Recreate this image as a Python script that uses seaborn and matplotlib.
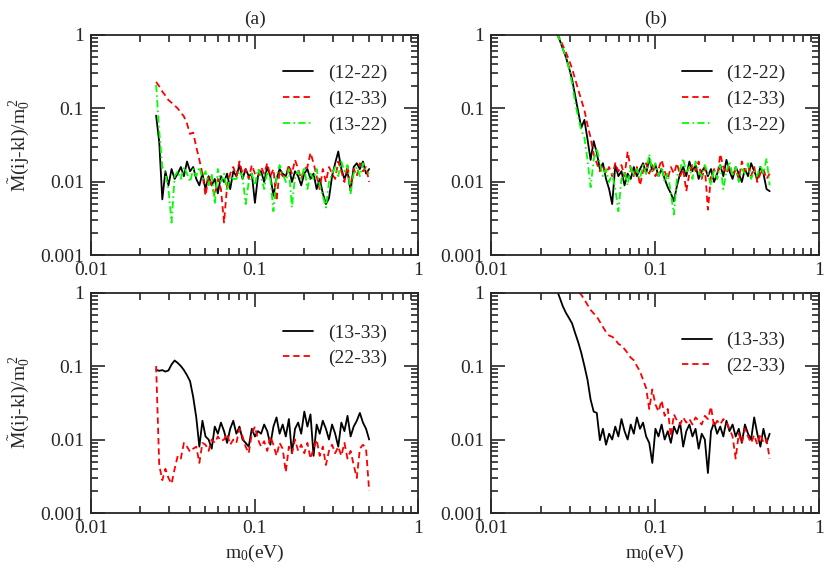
import matplotlib
matplotlib.use("Agg")
import matplotlib.pyplot as plt
import matplotlib.ticker as ticker
import seaborn as sns

# m0 grid (eV), shared by every curve
M0 = [0.02500, 0.02611, 0.02727, 0.02848, 0.02974, 0.03106, 0.03244, 0.03388, 0.03538, 0.03695,
      0.03859, 0.04030, 0.04209, 0.04396, 0.04591, 0.04794, 0.05007, 0.05229, 0.05461, 0.05703,
      0.05956, 0.06220, 0.06496, 0.06784, 0.07085, 0.07399, 0.07727, 0.08070, 0.08428, 0.08802,
      0.09193, 0.09600, 0.1003, 0.1047, 0.1094, 0.1142, 0.1193, 0.1246, 0.1301, 0.1359,
      0.1419, 0.1482, 0.1548, 0.1617, 0.1688, 0.1763, 0.1842, 0.1923, 0.2009, 0.2098,
      0.2191, 0.2288, 0.2389, 0.2495, 0.2606, 0.2722, 0.2842, 0.2968, 0.3100, 0.3238,
      0.3381, 0.3531, 0.3688, 0.3851, 0.4022, 0.4201, 0.4387, 0.4582, 0.4785, 0.5000]

# ---- panel (a), top ----
A_12_22 = [0.080, 0.035, 0.0058, 0.014, 0.009, 0.015, 0.011, 0.013, 0.016, 0.012,
           0.019, 0.014, 0.016, 0.011, 0.009, 0.013, 0.008, 0.012, 0.009, 0.011,
           0.007, 0.012, 0.010, 0.013, 0.008, 0.014, 0.012, 0.017, 0.011, 0.015,
           0.012, 0.013, 0.0052, 0.012, 0.014, 0.010, 0.016, 0.012, 0.0065, 0.011,
           0.015, 0.013, 0.012, 0.016, 0.010, 0.014, 0.012, 0.009, 0.013, 0.015,
           0.011, 0.013, 0.008, 0.011, 0.007, 0.005, 0.006, 0.012, 0.018, 0.026,
           0.015, 0.011, 0.014, 0.0075, 0.016, 0.018, 0.015, 0.019, 0.013, 0.015]
A_12_33 = [0.23, 0.20, 0.17, 0.15, 0.13, 0.12, 0.11, 0.10, 0.088, 0.078,
           0.062, 0.045, 0.047, 0.030, 0.020, 0.013, 0.0065, 0.012, 0.009, 0.0065,
           0.011, 0.008, 0.0028, 0.009, 0.013, 0.016, 0.012, 0.019, 0.013, 0.015,
           0.011, 0.017, 0.013, 0.012, 0.016, 0.013, 0.018, 0.012, 0.015, 0.0055,
           0.014, 0.012, 0.012, 0.017, 0.013, 0.020, 0.015, 0.011, 0.015, 0.016,
           0.025, 0.018, 0.012, 0.008, 0.015, 0.010, 0.016, 0.013, 0.011, 0.019,
           0.014, 0.010, 0.017, 0.008, 0.015, 0.012, 0.018, 0.014, 0.016, 0.010]
A_13_22 = [0.21, 0.050, 0.016, 0.013, 0.008, 0.0028, 0.012, 0.014, 0.011, 0.016,
           0.013, 0.010, 0.015, 0.012, 0.016, 0.011, 0.014, 0.009, 0.013, 0.005,
           0.015, 0.010, 0.013, 0.0075, 0.012, 0.011, 0.011, 0.014, 0.012, 0.005,
           0.010, 0.013, 0.009, 0.015, 0.012, 0.008, 0.014, 0.011, 0.004, 0.012,
           0.017, 0.013, 0.010, 0.015, 0.0045, 0.012, 0.014, 0.011, 0.016, 0.008,
           0.013, 0.011, 0.015, 0.009, 0.0065, 0.0045, 0.010, 0.013, 0.016, 0.012,
           0.019, 0.014, 0.017, 0.007, 0.013, 0.016, 0.012, 0.018, 0.014, 0.013]

# ---- panel (b), top ----
B_12_22 = [1.05, 0.85, 0.65, 0.50, 0.36, 0.25, 0.15, 0.090, 0.055, 0.070,
           0.038, 0.020, 0.036, 0.025, 0.015, 0.018, 0.011, 0.008, 0.005, 0.017,
           0.012, 0.014, 0.009, 0.013, 0.011, 0.016, 0.012, 0.015, 0.018, 0.013,
           0.021, 0.014, 0.017, 0.012, 0.015, 0.011, 0.0085, 0.007, 0.0055, 0.009,
           0.013, 0.016, 0.012, 0.019, 0.014, 0.017, 0.011, 0.014, 0.016, 0.012,
           0.015, 0.010, 0.013, 0.017, 0.012, 0.020, 0.014, 0.011, 0.016, 0.013,
           0.010, 0.015, 0.012, 0.018, 0.014, 0.011, 0.016, 0.013, 0.008, 0.0075]
B_12_33 = [1.05, 0.90, 0.72, 0.58, 0.46, 0.35, 0.25, 0.18, 0.13, 0.095,
           0.060, 0.040, 0.024, 0.018, 0.014, 0.017, 0.013, 0.016, 0.012, 0.018,
           0.014, 0.017, 0.012, 0.026, 0.015, 0.012, 0.016, 0.009, 0.014, 0.018,
           0.013, 0.017, 0.012, 0.015, 0.020, 0.014, 0.011, 0.016, 0.013, 0.018,
           0.012, 0.015, 0.0075, 0.013, 0.017, 0.014, 0.019, 0.011, 0.016, 0.0042,
           0.012, 0.015, 0.011, 0.024, 0.016, 0.013, 0.017, 0.012, 0.015, 0.011,
           0.019, 0.014, 0.017, 0.012, 0.016, 0.010, 0.013, 0.015, 0.011, 0.013]
B_13_22 = [1.05, 0.85, 0.65, 0.50, 0.35, 0.22, 0.12, 0.075, 0.050, 0.040,
           0.020, 0.0085, 0.020, 0.029, 0.018, 0.012, 0.015, 0.010, 0.013, 0.008,
           0.004, 0.011, 0.014, 0.009, 0.016, 0.012, 0.015, 0.011, 0.017, 0.013,
           0.024, 0.014, 0.018, 0.012, 0.016, 0.010, 0.013, 0.007, 0.0036, 0.012,
           0.015, 0.021, 0.013, 0.016, 0.011, 0.019, 0.014, 0.012, 0.017, 0.013,
           0.009, 0.015, 0.011, 0.017, 0.008, 0.014, 0.019, 0.012, 0.016, 0.010,
           0.015, 0.013, 0.018, 0.011, 0.014, 0.012, 0.017, 0.013, 0.021, 0.009]

# ---- panel (a), bottom ----
C_13_33 = [0.089, 0.086, 0.088, 0.084, 0.087, 0.105, 0.119, 0.110, 0.100, 0.088,
           0.075, 0.062, 0.038, 0.020, 0.008, 0.018, 0.011, 0.010, 0.0075, 0.015,
           0.012, 0.017, 0.013, 0.009, 0.014, 0.018, 0.012, 0.015, 0.010, 0.009,
           0.008, 0.014, 0.011, 0.013, 0.012, 0.016, 0.013, 0.0085, 0.015, 0.020,
           0.012, 0.016, 0.011, 0.019, 0.0065, 0.014, 0.017, 0.012, 0.024, 0.015,
           0.022, 0.006, 0.016, 0.012, 0.018, 0.014, 0.010, 0.016, 0.012, 0.008,
           0.017, 0.013, 0.021, 0.011, 0.015, 0.018, 0.023, 0.017, 0.014, 0.010]
C_22_33 = [0.10, 0.0045, 0.0028, 0.004, 0.003, 0.0025, 0.004, 0.006, 0.0055, 0.009,
           0.008, 0.0068, 0.0075, 0.008, 0.0048, 0.009, 0.0085, 0.007, 0.010, 0.009,
           0.011, 0.0095, 0.010, 0.012, 0.0085, 0.010, 0.009, 0.014, 0.011, 0.008,
           0.0065, 0.012, 0.015, 0.010, 0.008, 0.0095, 0.007, 0.011, 0.0085, 0.006,
           0.009, 0.0075, 0.0036, 0.008, 0.0065, 0.010, 0.007, 0.0085, 0.0065, 0.009,
           0.0055, 0.0075, 0.010, 0.006, 0.008, 0.0045, 0.007, 0.0085, 0.0065, 0.008,
           0.006, 0.009, 0.0055, 0.007, 0.0045, 0.003, 0.0075, 0.0085, 0.0075, 0.002]

# ---- panel (b), bottom ----
D_13_33 = [1.10, 0.85, 0.65, 0.53, 0.45, 0.38, 0.28, 0.21, 0.15, 0.10,
           0.065, 0.035, 0.024, 0.023, 0.0098, 0.014, 0.0085, 0.012, 0.010, 0.015,
           0.011, 0.019, 0.013, 0.010, 0.016, 0.012, 0.020, 0.014, 0.017, 0.011,
           0.009, 0.0048, 0.014, 0.011, 0.016, 0.010, 0.013, 0.009, 0.015, 0.012,
           0.017, 0.008, 0.013, 0.016, 0.011, 0.014, 0.0075, 0.012, 0.010, 0.0035,
           0.013, 0.017, 0.012, 0.015, 0.011, 0.018, 0.013, 0.016, 0.011, 0.014,
           0.009, 0.016, 0.012, 0.010, 0.020, 0.012, 0.008, 0.014, 0.009, 0.012]
D_22_33 = [2.9, 2.4, 2.0, 1.7, 1.45, 1.25, 1.12, 1.03, 0.93, 0.80,
           0.68, 0.58, 0.52, 0.47, 0.40, 0.34, 0.29, 0.26, 0.25, 0.23,
           0.20, 0.19, 0.17, 0.15, 0.13, 0.12, 0.10, 0.085, 0.065, 0.050,
           0.026, 0.048, 0.030, 0.024, 0.034, 0.021, 0.026, 0.011, 0.022, 0.018,
           0.016, 0.020, 0.017, 0.019, 0.016, 0.020, 0.018, 0.016, 0.021, 0.019,
           0.028, 0.015, 0.018, 0.016, 0.019, 0.017, 0.014, 0.011, 0.0055, 0.012,
           0.009, 0.014, 0.011, 0.009, 0.0115, 0.0085, 0.012, 0.009, 0.010, 0.0055]

# line styles (xmgrace look)
SOLID = dict(color="black", linestyle="-")
DASH = dict(color="#ff0000", linestyle=(0, (3.5, 2.2)))
DASHDOT = dict(color="#00ff00", linestyle=(0, (4, 1.8, 0.9, 1.8)))

sns.set_style("ticks")
plt.rcParams["font.family"] = ["Liberation Serif", "DejaVu Serif"]
plt.rcParams["mathtext.fontset"] = "custom"
plt.rcParams["mathtext.rm"] = "Liberation Serif"
plt.rcParams["mathtext.it"] = "Liberation Serif:italic"
plt.rcParams["font.size"] = 14

fig, axes = plt.subplots(2, 2, figsize=(8.3, 5.68), dpi=100)
fig.subplots_adjust(left=0.1096, right=0.9867, top=0.9384, bottom=0.0968,
                    wspace=0.223, hspace=0.168)

panels = [
    (axes[0, 0], [("(12-22)", A_12_22, SOLID), ("(12-33)", A_12_33, DASH), ("(13-22)", A_13_22, DASHDOT)], (0.587, 0.866)),
    (axes[0, 1], [("(12-22)", B_12_22, SOLID), ("(12-33)", B_12_33, DASH), ("(13-22)", B_13_22, DASHDOT)], (0.581, 0.866)),
    (axes[1, 0], [("(13-33)", C_13_33, SOLID), ("(22-33)", C_22_33, DASH)], (0.587, 0.858)),
    (axes[1, 1], [("(13-33)", D_13_33, SOLID), ("(22-33)", D_22_33, DASH)], (0.581, 0.822)),
]

for ax, series, legpos in panels:
    for label, vals, style in series:
        sns.lineplot(x=M0, y=vals, ax=ax, label=label, lw=1.3,
                     estimator=None, sort=False, **style)
    ax.set_xscale("log")
    ax.set_yscale("log")
    ax.set_xlim(0.01, 1)
    ax.set_ylim(0.001, 1)
    ax.xaxis.set_major_locator(ticker.FixedLocator([0.01, 0.1, 1]))
    ax.yaxis.set_major_locator(ticker.FixedLocator([0.001, 0.01, 0.1, 1]))
    fmt = ticker.FuncFormatter(lambda v, p: f"{v:g}")
    ax.xaxis.set_major_formatter(fmt)
    ax.yaxis.set_major_formatter(fmt)
    ax.xaxis.set_minor_locator(ticker.LogLocator(base=10, subs=range(2, 10)))
    ax.yaxis.set_minor_locator(ticker.LogLocator(base=10, subs=range(2, 10)))
    ax.xaxis.set_minor_formatter(ticker.NullFormatter())
    ax.yaxis.set_minor_formatter(ticker.NullFormatter())
    ax.tick_params(which="both", direction="in", top=True, right=True, labelsize=14, width=1.2)
    ax.tick_params(which="major", length=10, pad=5)
    ax.tick_params(which="minor", length=5)
    for sp in ax.spines.values():
        sp.set_linewidth(1.3)
    ax.legend(loc="upper left", bbox_to_anchor=legpos, frameon=False, fontsize=14,
              handlelength=1.55, handletextpad=0.75, labelspacing=0.42,
              borderpad=0, borderaxespad=0)

ylab = r"$\tilde{\rm M}$(ij-kl)/m$_0^{\,2}$"
axes[0, 0].set_ylabel(ylab, fontsize=14, labelpad=6)
axes[1, 0].set_ylabel(ylab, fontsize=14, labelpad=6)
axes[1, 0].set_xlabel(r"m$_0$(eV)", fontsize=14)
axes[1, 1].set_xlabel(r"m$_0$(eV)", fontsize=14)
axes[0, 0].set_title("(a)", fontsize=14, pad=8)
axes[0, 1].set_title("(b)", fontsize=14, pad=8)

fig.savefig("out.png", dpi=100)
